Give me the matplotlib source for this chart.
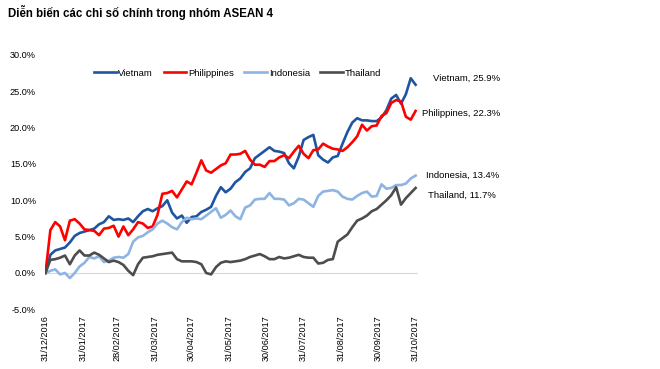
import numpy as np
import pandas as pd
import matplotlib
matplotlib.use("Agg")
import matplotlib.pyplot as plt

plt.rcParams['font.family'] = ['Liberation Sans', 'DejaVu Sans']

# sample dates (every 4 days, 31/12/2016 -> 31/10/2017)
dates = pd.date_range('2016-12-31', '2017-10-31', freq='4D')

vietnam = [0.0, 2.5, 3.1, 3.3, 3.5, 4.2, 5.1, 5.5, 5.7, 5.9,
           6.1, 6.7, 7.0, 7.8, 7.3, 7.4, 7.3, 7.5, 7.0, 7.8,
           8.5, 8.8, 8.5, 8.9, 9.2, 10.0, 8.3, 7.5, 7.9, 6.9,
           7.7, 7.8, 8.4, 8.7, 9.1, 10.6, 11.8, 11.1, 11.6, 12.5,
           13.0, 13.9, 14.4, 15.8, 16.3, 16.8, 17.3, 16.8, 16.7, 16.5,
           15.1, 14.4, 16.0, 18.3, 18.7, 19.0, 16.2, 15.6, 15.2, 15.9,
           16.1, 17.8, 19.4, 20.7, 21.3, 21.0, 21.0, 20.9, 20.9, 21.4,
           22.4, 24.0, 24.5, 23.3, 24.6, 26.8, 25.9]
philippines = [0.0, 5.9, 7.0, 6.4, 4.5, 7.2, 7.4, 6.8, 6.0, 5.9,
               5.8, 5.2, 6.1, 6.2, 6.5, 5.0, 6.4, 5.2, 6.0, 7.0,
               6.8, 6.2, 6.4, 8.0, 10.9, 11.0, 11.3, 10.4, 11.5, 12.6,
               12.2, 13.8, 15.5, 14.1, 13.8, 14.3, 14.8, 15.1, 16.3, 16.3,
               16.4, 16.8, 15.6, 14.9, 14.9, 14.6, 15.4, 15.4, 15.9, 16.2,
               15.8, 16.7, 17.5, 16.4, 15.8, 16.9, 17.0, 17.8, 17.4, 17.1,
               17.0, 16.8, 17.3, 18.0, 18.8, 20.4, 19.6, 20.2, 20.3, 21.6,
               22.0, 23.4, 23.8, 23.6, 21.5, 21.1, 22.3]
indonesia = [0.0, 0.3, 0.5, -0.2, 0.0, -0.7, 0.0, 0.9, 1.4, 2.2,
             2.0, 2.3, 1.5, 1.7, 2.1, 2.2, 2.1, 2.6, 4.3, 4.9,
             5.1, 5.6, 6.0, 6.8, 7.2, 6.8, 6.3, 6.0, 7.0, 7.6,
             7.4, 7.5, 7.4, 7.9, 8.4, 8.9, 7.6, 8.0, 8.6, 7.8,
             7.4, 9.0, 9.3, 10.1, 10.2, 10.2, 11.0, 10.2, 10.2, 10.1,
             9.3, 9.6, 10.2, 10.1, 9.6, 9.1, 10.6, 11.2, 11.3, 11.4,
             11.2, 10.5, 10.2, 10.1, 10.6, 11.0, 11.2, 10.5, 10.6, 12.2,
             11.6, 11.7, 12.1, 12.1, 12.3, 13.0, 13.4]
thailand = [0.0, 1.8, 1.9, 2.1, 2.4, 1.2, 2.4, 3.1, 2.4, 2.4,
            2.8, 2.5, 2.0, 1.5, 1.7, 1.5, 1.1, 0.3, -0.3, 1.2,
            2.1, 2.2, 2.3, 2.5, 2.6, 2.7, 2.8, 1.9, 1.6, 1.6,
            1.6, 1.5, 1.2, 0.0, -0.2, 0.8, 1.4, 1.6, 1.5, 1.6,
            1.7, 1.9, 2.2, 2.4, 2.6, 2.3, 1.9, 1.9, 2.2, 2.0,
            2.1, 2.3, 2.5, 2.2, 2.1, 2.1, 1.3, 1.4, 1.8, 1.9,
            4.3, 4.8, 5.3, 6.3, 7.2, 7.5, 7.9, 8.5, 8.8, 9.4,
            10.0, 10.7, 11.8, 9.4, 10.3, 11.0, 11.7]

names = ['Vietnam', 'Philippines', 'Indonesia', 'Thailand']
series = [vietnam, philippines, indonesia, thailand]
colors = ['#1F55A0', '#FF0000', '#8DB4E2', '#4D4D4D']
# end-label offsets in points (dx, dy)
label_offsets = [(61, 5), (61, -2), (60, 0), (58, -5)]

fig = plt.figure(figsize=(6.6, 3.69), dpi=100)
ax = fig.add_axes([0.0682, 0.1618, 0.5652, 0.6892])

for name, vals, c in zip(names, series, colors):
    ax.plot(dates, vals, color=c, lw=1.9, label=name, solid_joinstyle='round')

for name, vals, (dx, dy) in zip(names, series, label_offsets):
    ax.annotate(f'{name}, {vals[-1]:.1f}%', xy=(dates[-1], vals[-1]),
                xytext=(dx, dy), textcoords='offset points',
                ha='right', va='center', fontsize=6.8, annotation_clip=False)

ax.axhline(0, color='#D9D9D9', lw=0.8, zorder=0)
ax.set_ylim(-5, 30)
ax.set_yticks(np.arange(-5, 31, 5))
ax.set_yticklabels([f'{v:.1f}%' for v in np.arange(-5, 31, 5)])
ax.set_xlim(pd.Timestamp('2016-12-31') - pd.Timedelta(days=0.4),
            pd.Timestamp('2016-12-31') + pd.Timedelta(days=306))
ticks = pd.date_range('2016-12-31', '2017-10-31', freq='ME')
ax.set_xticks(ticks)
ax.set_xticklabels([t.strftime('%d/%m/%Y') for t in ticks], rotation=90)
ax.tick_params(axis='both', length=0, labelsize=6.6)
ax.tick_params(axis='y', pad=6.5)
ax.tick_params(axis='x', pad=4.5)
for s in ax.spines.values():
    s.set_visible(False)

fig.legend(loc='center', bbox_to_anchor=(0.36, 0.802), ncol=4, frameon=False,
           fontsize=6.8, handlelength=2.4, handletextpad=0.2, columnspacing=1.1)

fig.text(0.012, 0.965, 'Diễn biến các chỉ số chính trong nhóm ASEAN 4',
         fontsize=8.3, fontweight='bold', ha='left', va='center')

fig.savefig('out.png', dpi=100)
